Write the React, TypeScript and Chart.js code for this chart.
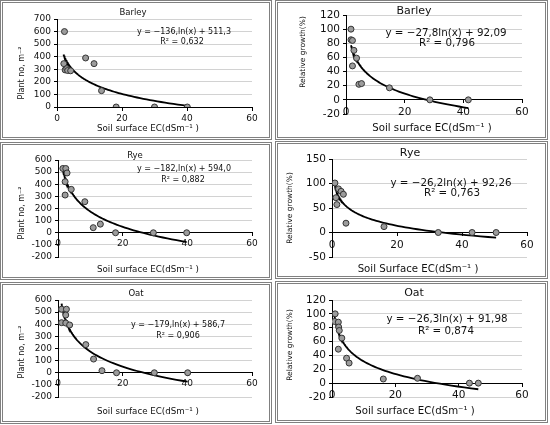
import React, { useEffect, useRef } from 'react';
import { Chart, registerables } from 'chart.js';
Chart.register(...registerables);

// ---------- data ----------
const xTickStep = 20;
const xMin = 0;
const xMax = 60;

// Barley – plant number
const barleyPlantX = [2.3, 2.1, 2.5, 3.0, 3.3, 4.2, 8.8, 11.4, 13.7, 18.2, 30.0, 40.1];
const barleyPlantY = [600, 345, 295, 305, 290, 288, 390, 345, 130, 0, 0, 0];
// Barley – relative growth
const barleyRelX = [1.7, 1.7, 2.2, 2.7, 3.6, 2.2, 4.4, 5.3, 14.8, 28.6, 41.7];
const barleyRelY = [100, 85, 84, 70, 59, 48, 22, 23, 17, 0, 0];
// Rye – plant number
const ryePlantX = [1.5, 2.4, 2.8, 2.2, 2.2, 4.1, 8.3, 10.9, 13.1, 17.8, 29.5, 39.8];
const ryePlantY = [530, 530, 493, 421, 311, 358, 256, 42, 71, 0, 0, 0];
// Rye – relative growth
const ryeRelX = [0.9, 2.0, 2.8, 3.5, 1.2, 1.5, 4.3, 16.0, 32.7, 43.1, 50.5];
const ryeRelY = [101, 89, 84, 78, 71, 57, 19, 12, 0, 0, 0];
// Oat – plant number
const oatPlantX = [1.1, 2.6, 2.4, 1.1, 2.4, 3.6, 8.6, 11.0, 13.6, 18.1, 29.8, 40.1];
const oatPlantY = [524, 524, 476, 413, 410, 394, 232, 113, 17, 0, 0, 0];
// Oat – relative growth
const oatRelX = [1.0, 0.8, 2.0, 2.1, 2.3, 3.1, 2.0, 4.6, 5.4, 16.2, 27.0, 43.4, 46.2];
const oatRelY = [100, 89, 88, 81, 76, 65, 49, 36, 29, 6, 7, 0, 0];

// logarithmic trendlines as printed on each panel: y = a·ln(x) + b
const fitSlopes = [-136, -27.8, -182, -26.2, -179, -26.3];
const fitIntercepts = [511.3, 92.09, 594.0, 92.26, 586.7, 91.98];
const fitFrom = [2.0, 1.7, 1.5, 0.9, 1.1, 0.8];
const fitTo = [40.1, 41.7, 39.8, 50.5, 40.1, 46.2];

const panelTitles = ['Barley', 'Barley', 'Rye', 'Rye', 'Oat', 'Oat'];
const equations = [
  'y = −136,ln(x) + 511,3',
  'y = −27,8ln(x) + 92,09',
  'y = −182,ln(x) + 594,0',
  'y = −26,2ln(x) + 92,26',
  'y = −179,ln(x) + 586,7',
  'y = −26,3ln(x) + 91,98',
];
const rSquared = ['R² = 0,632', 'R² = 0,796', 'R² = 0,882', 'R² = 0,763', 'R² = 0,906', 'R² = 0,874'];
const xTitles = [
  'Soil surface EC(dSm⁻¹ )',
  'Soil surface EC(dSm⁻¹ )',
  'Soil surface EC(dSm⁻¹ )',
  'Soil Surface EC(dSm⁻¹ )',
  'Soil surface EC(dSm⁻¹ )',
  'Soil surface EC(dSm⁻¹ )',
];
const yTitles = ['Plant no, m⁻²', 'Relative growth(%)', 'Plant no, m⁻²', 'Relative growth(%)', 'Plant no, m⁻²', 'Relative growth(%)'];
const yMins = [0, -20, -200, -50, -200, -20];
const yMaxs = [700, 120, 600, 150, 600, 120];
const ySteps = [100, 20, 100, 50, 100, 20];

const seriesX = [barleyPlantX, barleyRelX, ryePlantX, ryeRelX, oatPlantX, oatRelX];
const seriesY = [barleyPlantY, barleyRelY, ryePlantY, ryeRelY, oatPlantY, oatRelY];

// ---------- layout / style ----------
type Layout = {
  box: [number, number, number, number];
  area: [number, number, number, number]; // left, top, right, bottom (canvas coords)
  title: [number, number];
  eq: [number, number];
  r2: [number, number];
  xt: [number, number];
  yt: [number, number];
  right: boolean;
};

const layouts: Layout[] = [
  { box: [0, 0, 272, 140], area: [54, 16, 249, 104], title: [130, 10], eq: [181, 29], r2: [179, 39], xt: [145, 126], yt: [19, 70], right: false },
  { box: [275, 0, 273, 140], area: [68, 12, 244, 111], title: [136, 8], eq: [168, 30], r2: [169, 40], xt: [154, 125], yt: [25, 49], right: true },
  { box: [0, 142, 272, 138], area: [55, 15, 249, 112], title: [132, 11], eq: [181, 24], r2: [180, 35], xt: [145, 125], yt: [19, 68], right: false },
  { box: [275, 141, 273, 138], area: [54, 15, 249, 113], title: [132, 9], eq: [173, 39], r2: [174, 49], xt: [140, 125], yt: [12, 64], right: true },
  { box: [0, 282, 272, 142], area: [55, 15, 249, 112], title: [133, 9], eq: [175, 40], r2: [175, 51], xt: [145, 127], yt: [19, 67], right: false },
  { box: [275, 281, 273, 142], area: [54, 16, 244, 113], title: [136, 9], eq: [169, 35], r2: [168, 47], xt: [137, 127], yt: [12, 61], right: true },
];

const FONT = '"DejaVu Sans", "Liberation Sans", sans-serif';
const BORDER = 3;

function Panel({ idx }: { idx: number }) {
  const ref = useRef<HTMLCanvasElement>(null);
  const lay = layouts[idx];
  const cw = lay.box[2] - BORDER * 2;
  const ch = lay.box[3] - BORDER * 2;

  useEffect(() => {
    const points = seriesX[idx].map((x, i) => ({ x, y: seriesY[idx][i] }));
    const a = fitSlopes[idx];
    const b = fitIntercepts[idx];
    const from = fitFrom[idx];
    const to = fitTo[idx];
    const curve: { x: number; y: number }[] = [];
    const n = 80;
    for (let i = 0; i <= n; i++) {
      const x = from * Math.pow(to / from, i / n);
      curve.push({ x, y: a * Math.log(x) + b });
    }
    const r = lay.right;
    const tickSize = r ? 10.5 : 9;
    const textPlugin = {
      id: 'panelText',
      afterDraw(chart: any) {
        const ctx = chart.ctx as CanvasRenderingContext2D;
        ctx.save();
        ctx.fillStyle = '#111';
        ctx.textAlign = 'center';
        ctx.textBaseline = 'middle';
        ctx.font = `${r ? 11 : 8.5}px ${FONT}`;
        ctx.fillText(panelTitles[idx], lay.title[0], lay.title[1]);
        ctx.font = `${r ? 10.3 : 8}px ${FONT}`;
        ctx.fillText(equations[idx], lay.eq[0], lay.eq[1]);
        ctx.fillText(rSquared[idx], lay.r2[0], lay.r2[1]);
        ctx.font = `${r ? 10.2 : 8.7}px ${FONT}`;
        ctx.fillText(xTitles[idx], lay.xt[0], lay.xt[1]);
        ctx.translate(lay.yt[0], lay.yt[1]);
        ctx.rotate(-Math.PI / 2);
        ctx.font = `${r ? 7.5 : 8}px ${FONT}`;
        ctx.fillText(yTitles[idx], 0, 0);
        ctx.restore();
      },
    };
    const chart = new Chart(ref.current as HTMLCanvasElement, {
      type: 'scatter',
      data: {
        datasets: [
          {
            data: points,
            pointRadius: 3,
            pointHoverRadius: 3,
            backgroundColor: '#9c9c9c',
            borderColor: '#333',
            borderWidth: 1,
          },
          {
            data: curve,
            showLine: true,
            pointRadius: 0,
            borderColor: '#000',
            borderWidth: 1.8,
            fill: false,
            tension: 0,
          },
        ],
      },
      options: {
        animation: false,
        responsive: false,
        devicePixelRatio: 1,
        events: [],
        layout: {
          padding: {
            left: 0,
            top: lay.area[1],
            right: cw - lay.area[2],
            bottom: ch - lay.area[3],
          },
        },
        plugins: { legend: { display: false }, tooltip: { enabled: false }, title: { display: false } },
        scales: {
          x: {
            type: 'linear',
            min: xMin,
            max: xMax,
            position: { y: 0 } as any,
            ticks: { stepSize: xTickStep, autoSkip: false, color: '#111', font: { family: FONT, size: tickSize }, padding: 3, maxRotation: 0 },
            grid: { drawOnChartArea: false, tickLength: 3, tickColor: '#000' },
            border: { color: '#000', width: 1 },
          },
          y: {
            type: 'linear',
            min: yMins[idx],
            max: yMaxs[idx],
            position: 'left',
            ticks: { stepSize: ySteps[idx], autoSkip: false, color: '#111', font: { family: FONT, size: tickSize }, padding: 3 },
            grid: { color: '#d2d2d2', tickLength: 3, tickColor: '#000' },
            border: { color: '#000', width: 1 },
            afterFit: (s: any) => {
              s.width = lay.area[0];
            },
          },
        },
      },
      plugins: [textPlugin],
    } as any);
    return () => chart.destroy();
  }, []);

  return (
    <div
      style={{
        position: 'absolute',
        left: lay.box[0],
        top: lay.box[1],
        width: lay.box[2],
        height: lay.box[3],
        boxSizing: 'border-box',
        border: `${BORDER}px double #808080`,
        background: '#fff',
      }}
    >
      <canvas ref={ref} width={cw} height={ch} style={{ display: 'block', width: cw, height: ch }} />
    </div>
  );
}

export default function App() {
  return (
    <div style={{ position: 'absolute', left: 0, top: 0, width: 550, height: 425, background: '#fff' }}>
      {layouts.map((_, i) => (
        <Panel key={i} idx={i} />
      ))}
    </div>
  );
}
